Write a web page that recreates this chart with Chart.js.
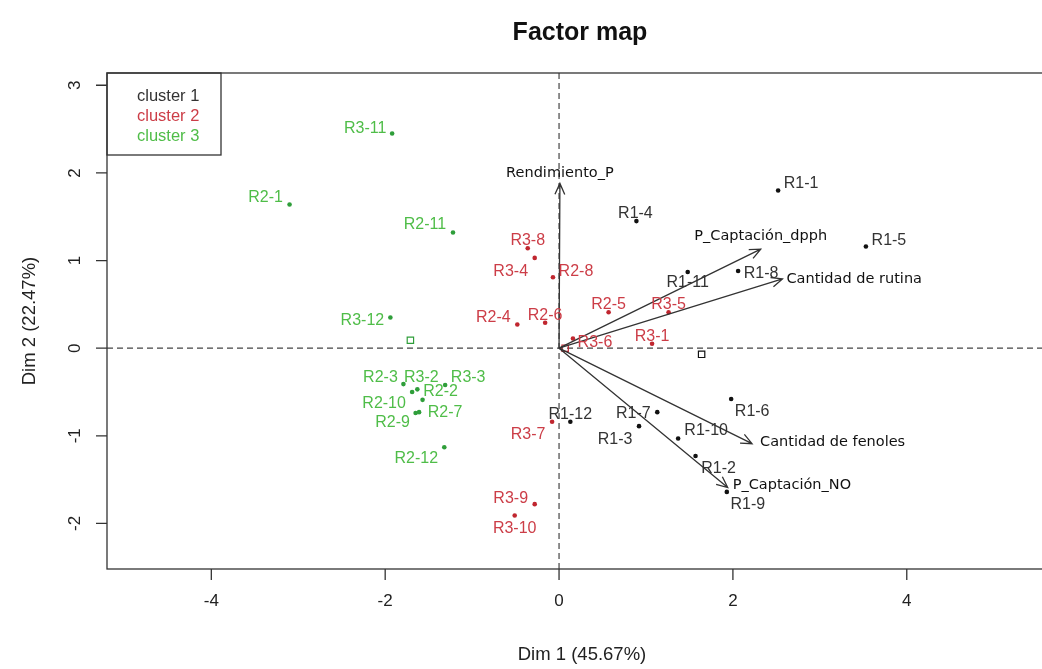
<!DOCTYPE html>
<html>
<head>
<meta charset="utf-8">
<title>Factor map</title>
<script src="https://cdn.jsdelivr.net/npm/chart.js@4.4.0/dist/chart.umd.min.js"></script>
<style>
    html, body { margin: 0; padding: 0; background: #fff; }
    #wrap { width: 1042px; height: 669px; }
</style>
</head>
<body>
<div id="wrap"><canvas id="factor-map" width="1042" height="669"></canvas></div>
<script>
// Individuals, cluster 1 (black)
const c1Names = ['R1-1', 'R1-2', 'R1-3', 'R1-4', 'R1-5', 'R1-6', 'R1-7', 'R1-8', 'R1-9', 'R1-10', 'R1-11', 'R1-12'];
const c1X = [2.52, 1.57, 0.92, 0.89, 3.53, 1.98, 1.13, 2.06, 1.93, 1.37, 1.48, 0.13];
const c1Y = [1.80, -1.23, -0.89, 1.45, 1.16, -0.58, -0.73, 0.88, -1.64, -1.03, 0.87, -0.84];

// Individuals, cluster 2 (red)
const c2Names = ['R3-8', 'R3-4', 'R2-8', 'R2-4', 'R2-6', 'R2-5', 'R3-5', 'R3-6', 'R3-1', 'R3-7', 'R3-9', 'R3-10'];
const c2X = [-0.36, -0.28, -0.07, -0.48, -0.16, 0.57, 1.26, 0.16, 1.07, -0.08, -0.28, -0.51];
const c2Y = [1.14, 1.03, 0.81, 0.27, 0.29, 0.41, 0.41, 0.11, 0.05, -0.84, -1.78, -1.91];

// Individuals, cluster 3 (green)
const c3Names = ['R3-11', 'R2-1', 'R2-11', 'R3-12', 'R2-3', 'R3-2', 'R2-10', 'R3-3', 'R2-2', 'R2-7', 'R2-9', 'R2-12'];
const c3X = [-1.92, -3.10, -1.22, -1.94, -1.79, -1.63, -1.69, -1.31, -1.57, -1.61, -1.65, -1.32];
const c3Y = [2.45, 1.64, 1.32, 0.35, -0.41, -0.47, -0.50, -0.42, -0.59, -0.73, -0.74, -1.13];

// Cluster centres (open squares)
const centerX = [1.64, 0.07, -1.71];
const centerY = [-0.07, 0.0, 0.09];

// Variables (arrows)
const varNames = ['Rendimiento_P', 'P_Captación_dpph', 'Cantidad de rutina', 'Cantidad de fenoles', 'P_Captación_NO'];
const varX = [0.01, 2.32, 2.57, 2.22, 1.94];
const varY = [1.88, 1.13, 0.79, -1.09, -1.59];

// Axis ticks
const xTicks = [-4, -2, 0, 2, 4];
const yTicks = [-2, -1, 0, 1, 2, 3];

const clusterLabels = ['cluster 1', 'cluster 2', 'cluster 3'];
const dotColors = ['#111111', '#c0262f', '#2f9e3a'];
const textColors = ['#333333', '#cc3d47', '#4fbd48'];

// Label placement (text centre offset from the point, in px)
const labelOffsets = {
    'R1-1': [23, -7], 'R1-2': [23, 13], 'R1-3': [-24, 13], 'R1-4': [-1, -8],
    'R1-5': [23, -6], 'R1-6': [21, 13], 'R1-7': [-24, 1], 'R1-8': [23, 3],
    'R1-9': [21, 13], 'R1-10': [28, -8], 'R1-11': [0, 11], 'R1-12': [0, -7],
    'R3-8': [0, -8], 'R3-4': [-24, 14], 'R2-8': [23, -6], 'R2-4': [-24, -7],
    'R2-6': [0, -7], 'R2-5': [0, -8], 'R3-5': [0, -8], 'R3-6': [22, 4],
    'R3-1': [0, -7], 'R3-7': [-24, 13], 'R3-9': [-24, -6], 'R3-10': [0, 13],
    'R3-11': [-27, -5], 'R2-1': [-24, -7], 'R2-11': [-28, -8], 'R3-12': [-28, 3],
    'R2-3': [-23, -7], 'R3-2': [4, -12], 'R2-10': [-28, 12], 'R3-3': [23, -7],
    'R2-2': [18, -8], 'R2-7': [26, 0], 'R2-9': [-23, 10], 'R2-12': [-28, 11]
};
// Variable label anchor: [dx, dy, textAlign]
const varLabelPos = {
    'Rendimiento_P': [0, -10, 'center'],
    'P_Captación_dpph': [0, -13, 'center'],
    'Cantidad de rutina': [4, 0, 'left'],
    'Cantidad de fenoles': [8, -1, 'left'],
    'P_Captación_NO': [5, -2, 'left']
};

function toPoints(xs, ys) {
    return xs.map((x, i) => ({ x: x, y: ys[i] }));
}

// Frame, dashed axes, arrows, labels, legend and axis text
const factorMapPlugin = {
    id: 'factorMap',
    beforeDatasetsDraw(chart) {
        const ctx = chart.ctx;
        const area = chart.chartArea;
        const xs = chart.scales.x;
        const ys = chart.scales.y;
        ctx.save();
        ctx.strokeStyle = '#444';
        ctx.lineWidth = 1.2;
        ctx.setLineDash([6, 4]);
        const x0 = xs.getPixelForValue(0);
        const y0 = ys.getPixelForValue(0);
        ctx.beginPath();
        ctx.moveTo(x0, area.top);
        ctx.lineTo(x0, area.bottom);
        ctx.moveTo(area.left, y0);
        ctx.lineTo(chart.width, y0);
        ctx.stroke();
        ctx.restore();
    },
    afterDatasetsDraw(chart) {
        const ctx = chart.ctx;
        const area = chart.chartArea;
        const xs = chart.scales.x;
        const ys = chart.scales.y;
        const x0 = xs.getPixelForValue(0);
        const y0 = ys.getPixelForValue(0);

        // variable arrows
        ctx.save();
        ctx.strokeStyle = '#333';
        ctx.lineWidth = 1.3;
        varNames.forEach((name, i) => {
            const tx = xs.getPixelForValue(varX[i]);
            const ty = ys.getPixelForValue(varY[i]);
            const ang = Math.atan2(ty - y0, tx - x0);
            const head = 12;
            ctx.beginPath();
            ctx.moveTo(x0, y0);
            ctx.lineTo(tx, ty);
            ctx.moveTo(tx - head * Math.cos(ang - 0.42), ty - head * Math.sin(ang - 0.42));
            ctx.lineTo(tx, ty);
            ctx.lineTo(tx - head * Math.cos(ang + 0.42), ty - head * Math.sin(ang + 0.42));
            ctx.stroke();
            const pos = varLabelPos[name];
            ctx.fillStyle = '#111';
            ctx.font = '14.5px "DejaVu Sans", sans-serif';
            ctx.textAlign = pos[2];
            ctx.textBaseline = 'middle';
            ctx.fillText(name, tx + pos[0], ty + pos[1]);
        });
        ctx.restore();

        // individual labels
        ctx.save();
        ctx.font = '16px "Liberation Sans", Arial, sans-serif';
        ctx.textAlign = 'center';
        ctx.textBaseline = 'middle';
        [[c1Names, c1X, c1Y], [c2Names, c2X, c2Y], [c3Names, c3X, c3Y]].forEach((grp, k) => {
            ctx.fillStyle = textColors[k];
            grp[0].forEach((name, i) => {
                const off = labelOffsets[name] || [0, -8];
                ctx.fillText(name, xs.getPixelForValue(grp[1][i]) + off[0], ys.getPixelForValue(grp[2][i]) + off[1]);
            });
        });
        ctx.restore();

        // frame (right edge falls outside the window)
        ctx.save();
        ctx.strokeStyle = '#333';
        ctx.lineWidth = 1.3;
        ctx.strokeRect(area.left, area.top, chart.width - area.left + 20, area.bottom - area.top);

        // legend box
        ctx.strokeRect(area.left, area.top, 114, 82);
        ctx.font = '16.5px "Liberation Sans", Arial, sans-serif';
        ctx.textAlign = 'left';
        ctx.textBaseline = 'middle';
        clusterLabels.forEach((lab, i) => {
            ctx.fillStyle = textColors[i];
            ctx.fillText(lab, area.left + 30, area.top + 23 + i * 20);
        });

        // ticks
        ctx.fillStyle = '#222';
        ctx.font = '17px "Liberation Sans", Arial, sans-serif';
        ctx.beginPath();
        xTicks.forEach(v => {
            const px = xs.getPixelForValue(v);
            ctx.moveTo(px, area.bottom);
            ctx.lineTo(px, area.bottom + 11);
        });
        yTicks.forEach(v => {
            const py = ys.getPixelForValue(v);
            ctx.moveTo(area.left, py);
            ctx.lineTo(area.left - 11, py);
        });
        ctx.stroke();
        ctx.textAlign = 'center';
        xTicks.forEach(v => {
            ctx.fillText(String(v), xs.getPixelForValue(v), area.bottom + 32);
        });
        yTicks.forEach(v => {
            ctx.save();
            ctx.translate(area.left - 32, ys.getPixelForValue(v));
            ctx.rotate(-Math.PI / 2);
            ctx.fillText(String(v), 0, 0);
            ctx.restore();
        });

        // axis titles
        ctx.font = '18.5px "Liberation Sans", Arial, sans-serif';
        ctx.fillText('Dim 1 (45.67%)', 582, 655);
        ctx.save();
        ctx.translate(30, (area.top + area.bottom) / 2);
        ctx.rotate(-Math.PI / 2);
        ctx.fillText('Dim 2 (22.47%)', 0, 0);
        ctx.restore();

        // title
        ctx.fillStyle = '#111';
        ctx.font = 'bold 25px "Liberation Sans", Arial, sans-serif';
        ctx.fillText('Factor map', 580, 33);
        ctx.restore();
    }
};

new Chart(document.getElementById('factor-map'), {
    type: 'scatter',
    data: {
        datasets: [
            { label: 'cluster 1', data: toPoints(c1X, c1Y), backgroundColor: dotColors[0], borderWidth: 0, pointRadius: 2.3 },
            { label: 'cluster 2', data: toPoints(c2X, c2Y), backgroundColor: dotColors[1], borderWidth: 0, pointRadius: 2.3 },
            { label: 'cluster 3', data: toPoints(c3X, c3Y), backgroundColor: dotColors[2], borderWidth: 0, pointRadius: 2.3 },
            {
                label: 'centres',
                data: toPoints(centerX, centerY),
                pointStyle: 'rect',
                pointRadius: 4.5,
                backgroundColor: 'rgba(255,255,255,0)',
                borderColor: dotColors,
                borderWidth: 1.2
            }
        ]
    },
    options: {
        responsive: false,
        animation: false,
        devicePixelRatio: 1,
        layout: {
            padding: { left: 107, top: 73, right: 0, bottom: 100 }
        },
        scales: {
            x: { type: 'linear', display: false, min: -5.2, max: 5.49 },
            y: { type: 'linear', display: false, min: -2.52, max: 3.14 }
        },
        plugins: {
            legend: { display: false },
            tooltip: { enabled: false }
        }
    },
    plugins: [factorMapPlugin]
});
</script>
</body>
</html>
